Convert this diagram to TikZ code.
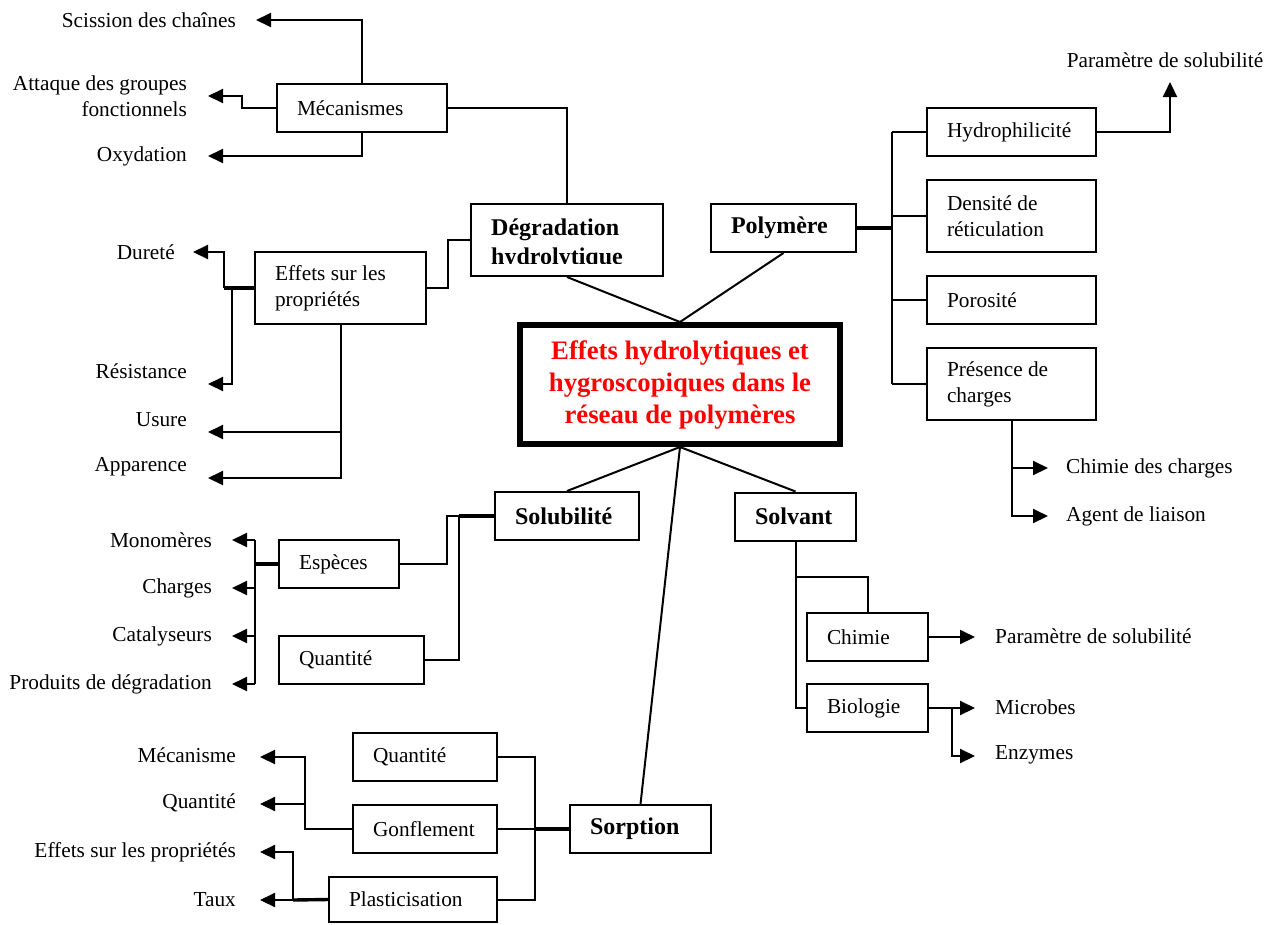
\documentclass[tikz,border=0pt]{standalone}
\usepackage{fontspec}
\setmainfont{Liberation Serif}
\usetikzlibrary{arrows.meta}
\begin{document}
\begin{tikzpicture}[x=1pt,y=-1pt,
  every node/.style={font=\fontsize{21.3}{26}\selectfont},
  box/.style={draw, line width=2pt, inner xsep=20pt, inner ysep=0pt, align=flush left, minimum height=48pt},
  bbox/.style={box, font=\fontsize{24}{28}\selectfont\bfseries},
  titlebox/.style={draw, line width=6pt, minimum width=320pt, minimum height=119pt, align=flush center, text=red, inner sep=0pt, font=\fontsize{26.7}{32}\selectfont\bfseries},
  lbl/.style={inner sep=0pt},
  ln/.style={line width=2pt},
  tk/.style={line width=3.4pt},
  bus/.style={line width=2.8pt},
  arr/.style={ln, -{Triangle[length=15pt,width=14pt]}},
]
\useasboundingbox (0,0) rectangle (1273,924);

% ---- boxes
\node[titlebox] (title) at (680,384.5) {Effets hydrolytiques et\\hygroscopiques dans le\\réseau de polymères};
\node[box, text width=130pt] (mec) at (362,108) {Mécanismes};
\node[box, text width=131pt, minimum height=72pt] (eff) at (340.5,288) {Effets sur les\\propriétés};
\node[box, text width=152pt, minimum height=72pt] (deg) at (567,240) {};
\begin{scope}
  \clip (471,204) rectangle (663,263);
  \node[lbl, anchor=west, font=\fontsize{24}{28}\selectfont\bfseries] (deg-a) at (491,230) {Dégradation};
  \node[lbl, anchor=west, font=\fontsize{24}{28}\selectfont\bfseries] (deg-b) at (491,259) {hydrolytique};
\end{scope}
\node[bbox, text width=105pt] (poly) at (783.5,228) {Polymère};
\node[box, text width=129pt] (hydro) at (1011.5,132) {Hydrophilicité};
\node[box, text width=129pt, minimum height=72pt] (dens) at (1011.5,216) {Densité de\\réticulation};
\node[box, text width=129pt] (poro) at (1011.5,300) {Porosité};
\node[box, text width=129pt, minimum height=72pt] (pres) at (1011.5,384) {Présence de\\charges};
\node[bbox, text width=81pt] (solv) at (795.5,516.5) {Solvant};
\node[box, text width=81pt] (chim) at (867.5,637) {Chimie};
\node[box, text width=81pt] (bio) at (867.5,708) {Biologie};
\node[bbox, text width=104pt] (solu) at (567,516) {Solubilité};
\node[box, text width=80pt] (esp) at (339,564) {Espèces};
\node[box, text width=105pt] (qa) at (351.5,660) {Quantité};
\node[bbox, text width=101pt] (sorp) at (640.5,829) {Sorption};
\node[box, text width=104pt] (qb) at (425,757) {Quantité};
\node[box, text width=104pt] (gonf) at (425,829) {Gonflement};
\node[box, text width=128pt, minimum height=45pt] (plast) at (413,899.5) {Plasticisation};

% ---- labels
\node[lbl, anchor=east] (l-sc) at (236,20) {Scission des chaînes};
\node[lbl, anchor=east, align=flush right] (l-att) at (187,96) {Attaque des groupes\\fonctionnels};
\node[lbl, anchor=east] (l-oxy) at (187,156) {Oxydation};
\node[lbl, anchor=east] (l-dur) at (175,252) {Dureté};
\node[lbl, anchor=east] (l-res) at (187,371) {Résistance};
\node[lbl, anchor=east] (l-usu) at (187,420) {Usure};
\node[lbl, anchor=east] (l-app) at (187,467) {Apparence};
\node[lbl, anchor=east] (l-mono) at (212,540) {Monomères};
\node[lbl, anchor=east] (l-charg) at (212,588) {Charges};
\node[lbl, anchor=east] (l-cata) at (212,636) {Catalyseurs};
\node[lbl, anchor=east] (l-prod) at (212,684) {Produits de dégradation};
\node[lbl, anchor=east] (l-mec2) at (236,755) {Mécanisme};
\node[lbl, anchor=east] (l-q3) at (236,803) {Quantité};
\node[lbl, anchor=east] (l-effp) at (236,852) {Effets sur les propriétés};
\node[lbl, anchor=east] (l-taux) at (236,900) {Taux};
\node[lbl] (l-p1) at (1165,60) {Paramètre de solubilité};
\node[lbl, anchor=west] (l-ch) at (1066,468) {Chimie des charges};
\node[lbl, anchor=west] (l-ag) at (1066,516) {Agent de liaison};
\node[lbl, anchor=west] (l-p2) at (995,636) {Paramètre de solubilité};
\node[lbl, anchor=west] (l-mic) at (995,707) {Microbes};
\node[lbl, anchor=west] (l-enz) at (995,755) {Enzymes};

% ---- arrow tips
\coordinate (t-sc) at (256,20);
\coordinate (t-att) at (208,96);
\coordinate (t-oxy) at (208,156);
\coordinate (t-dur) at (193,252);
\coordinate (t-res) at (208,384);
\coordinate (t-usu) at (208,432);
\coordinate (t-app) at (208,478);
\coordinate (t-p1) at (1170,82);
\coordinate (t-ch) at (1048,468);
\coordinate (t-ag) at (1048,516);
\coordinate (t-p2) at (975,637);
\coordinate (t-mic) at (975,708);
\coordinate (t-enz) at (975,756);
\coordinate (t-mono) at (232,540);
\coordinate (t-charg) at (232,588);
\coordinate (t-cata) at (232,636);
\coordinate (t-prod) at (232,684);
\coordinate (t-mec2) at (260,757);
\coordinate (t-q3) at (260,804);
\coordinate (t-effp) at (260,852);
\coordinate (t-taux) at (260,900);
\coordinate (j-solv) at (795.5,577);

% ---- centre links
\draw[ln] (deg.south) -- (title.north);
\draw[ln] (poly.south) -- (title.north);
\draw[ln] (solu.north) -- (title.south);
\draw[ln] (solv.north) -- (title.south);
\draw[ln] (sorp.north) -- (title.south);

% ---- Dégradation branch
\draw[ln] (mec.east) -| (deg.north);
\draw[arr] (mec.north) |- (t-sc);
\draw[arr] (mec.west) -- (242,108) |- (t-att);
\draw[arr] (mec.south) |- (t-oxy);
\draw[ln] (eff.east) -- (448,288) |- (deg.west);
\draw[tk] (eff.west) -- (224,288);
\draw[arr] (224,288) |- (t-dur);
\draw[arr] (232,288) |- (t-res);
\draw[arr] (eff.south) |- (t-app);
\draw[arr] (eff.south |- t-usu) -- (t-usu);

% ---- Polymère branch
\draw[tk] (poly.east) -- (892,228);
\draw[bus] (892,132) -- (892,384);
\draw[ln] (hydro.west) -- (892,132);
\draw[ln] (dens.west) -- (892,216);
\draw[ln] (poro.west) -- (892,300);
\draw[ln] (pres.west) -- (892,384);
\draw[arr] (hydro.east) -| (t-p1);
\draw[arr] (pres.south) |- (t-ag);
\draw[arr] (pres.south |- t-ch) -- (t-ch);

% ---- Solvant branch
\draw[ln] (solv.south) |- (bio.west);
\draw[ln] (j-solv) -| (chim.north);
\draw[arr] (chim.east) -- (t-p2);
\draw[arr] (bio.east) -- (t-mic);
\draw[arr] (952,708) |- (t-enz);

% ---- Solubilité branch
\draw[tk] (solu.west) -- (459,516);
\draw[ln] (459,516) -- (447,516) |- (esp.east);
\draw[ln] (459,516) |- (qa.east);
\draw[tk] (esp.west) -- (255,564);
\draw[ln] (255,540) -- (255,684);
\draw[arr] (255,540) -- (t-mono);
\draw[arr] (255,588) -- (t-charg);
\draw[arr] (255,636) -- (t-cata);
\draw[arr] (255,684) -- (t-prod);

% ---- Sorption branch
\draw[tk] (sorp.west) -- (535,829);
\draw[ln] (qb.east) -- (535,757) |- (plast.east);
\draw[ln] (gonf.east) -- (535,829);
\draw[arr] (gonf.west) -- (305,829) |- (t-mec2);
\draw[arr] (305,804) -- (t-q3);
\draw[tk] (plast.west) -- (293,900);
\draw[arr] (293,900) -- (t-taux);
\draw[arr] (293,900) |- (t-effp);
\end{tikzpicture}
\end{document}
